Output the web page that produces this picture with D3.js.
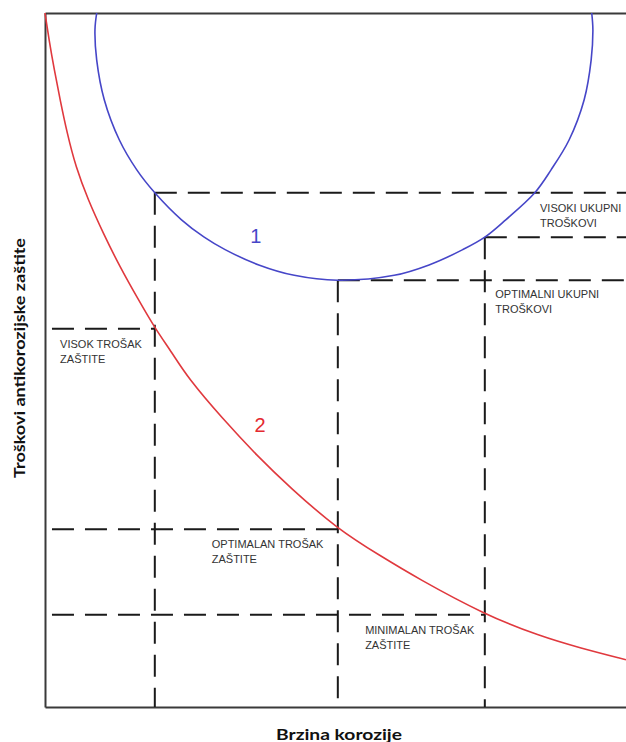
<!DOCTYPE html>
<html>
<head>
<meta charset="utf-8">
<script src="https://cdn.jsdelivr.net/npm/d3@7"></script>
<style>
  html, body { margin: 0; padding: 0; background: #fff; }
  svg { display: block; }
</style>
</head>
<body>
<svg id="chart" width="626" height="742"></svg>
<script>
// ---- Data (abstract units 0..100 on both axes) ----
// Curve 1: total cost (blue)
const curve1 = [
  [8.9,100],[8.6,97.6],[8.9,93.2],[10.2,87.5],[12.8,81.7],[15.8,77.4],[18.9,74.1],
  [23.5,70.2],[27.4,67.7],[31.0,65.9],[36.8,63.7],[42.9,62.2],[50.4,61.5],
  [60.1,62.2],[66.1,63.7],[71.9,65.9],[75.7,67.7],[79.3,70.2],[84.3,74.1],
  [87.1,77.4],[90.2,81.7],[92.8,87.5],[94.0,93.2],[94.3,97.6],[94.1,100]
];
// Curve 2: protection cost (red)
const curve2 = [
  [0,100],[0.7,96.1],[1.6,91.8],[2.6,87.5],[3.8,82.7],[5.3,77.8],[7.4,73.1],
  [10.0,68.3],[12.9,63.4],[16.0,58.8],[18.9,54.6],[21.9,51.0],[24.6,47.4],
  [30.5,41.6],[36.5,36.2],[42.2,31.6],[50.4,25.6],[57.7,21.8],[64.0,18.6],
  [75.7,13.3],[85.2,10.2],[92.1,8.5],[100,6.8]
];
// Dashed guide lines
const vGuides = [ {x:18.9, y0:0, y1:74.1}, {x:50.4, y0:0, y1:61.5}, {x:75.7, y0:0, y1:67.7} ];
const hGuides = [
  {y:74.1, x0:18.9, x1:100}, {y:67.7, x0:75.7, x1:100}, {y:61.5, x0:50.4, x1:100},
  {y:54.5, x0:1.2, x1:18.9}, {y:25.6, x0:1.2, x1:50.4}, {y:13.3, x0:1.2, x1:75.7}
];
// Annotation labels
const notes = [
  {lines:["VISOKI UKUPNI","TROŠKOVI"], x:85.2, y:71.3},
  {lines:["OPTIMALNI UKUPNI","TROŠKOVI"], x:77.5, y:58.9},
  {lines:["VISOK TROŠAK","ZAŠTITE"], x:2.6, y:51.7},
  {lines:["OPTIMALAN TROŠAK","ZAŠTITE"], x:28.7, y:22.9},
  {lines:["MINIMALAN TROŠAK","ZAŠTITE"], x:55.1, y:10.5}
];
const curveLabels = [ {text:"1", x:36.3, y:66.9, color:"#4646c8"}, {text:"2", x:37.0, y:39.6, color:"#e42a30"} ];
const xTitle = "Brzina korozije";
const yTitle = "Troškovi antikorozijske zaštite";

// ---- Drawing ----
const svg = d3.select("#chart");
const x = d3.scaleLinear().domain([0,100]).range([45,626]);
const y = d3.scaleLinear().domain([0,100]).range([707,13]);

// Frame via axes (no ticks)
const frame = svg.append("g");
frame.append("g").attr("transform",`translate(0,${y(0)})`)
  .call(d3.axisBottom(x).tickValues([]).tickSizeOuter(0));
frame.append("g").attr("transform",`translate(0,${y(100)})`)
  .call(d3.axisTop(x).tickValues([]).tickSizeOuter(0));
frame.append("g").attr("transform",`translate(${x(0)},0)`)
  .call(d3.axisLeft(y).tickValues([]).tickSizeOuter(0));
frame.selectAll(".domain").attr("stroke","#3a3a3a").attr("stroke-width",2);

// Guides
const guides = svg.append("g").attr("stroke","#1a1a1a").attr("stroke-width",2)
  .attr("stroke-dasharray","22,11").attr("fill","none");
guides.selectAll("line.v").data(vGuides).join("line").attr("class","v")
  .attr("x1",d=>x(d.x)).attr("x2",d=>x(d.x)).attr("y1",d=>y(d.y1)).attr("y2",d=>y(d.y0));
guides.selectAll("line.h").data(hGuides).join("line").attr("class","h")
  .attr("x1",d=>x(d.x0)).attr("x2",d=>x(d.x1)).attr("y1",d=>y(d.y)).attr("y2",d=>y(d.y));

// Curves
const line1 = d3.line().x(d=>x(d[0])).y(d=>y(d[1])).curve(d3.curveCatmullRom.alpha(0.5));
const line2 = d3.line().x(d=>x(d[0])).y(d=>y(d[1])).curve(d3.curveBasis);
svg.append("path").datum(curve1).attr("d",line1).attr("fill","none")
  .attr("stroke","#4646c8").attr("stroke-width",1.6);
svg.append("path").datum(curve2).attr("d",line2).attr("fill","none")
  .attr("stroke","#e0393e").attr("stroke-width",1.6);

// Notes
const ng = svg.append("g").attr("font-family","'Liberation Sans', Arial, sans-serif")
  .attr("font-size",11).attr("fill","#333");
notes.forEach(n => {
  const t = ng.append("text").attr("x",x(n.x)).attr("y",y(n.y));
  n.lines.forEach((l,i) => t.append("tspan").attr("x",x(n.x)).attr("dy", i===0?0:15).text(l));
});

// Curve labels
svg.selectAll("text.cl").data(curveLabels).join("text").attr("class","cl")
  .attr("x",d=>x(d.x)).attr("y",d=>y(d.y)).attr("text-anchor","middle")
  .attr("font-family","'Liberation Sans', Arial, sans-serif").attr("font-size",20)
  .attr("fill",d=>d.color).text(d=>d.text);

// Axis titles
svg.append("text").attr("x",339).attr("y",740).attr("text-anchor","middle")
  .attr("font-family","Lato, 'Open Sans', sans-serif").attr("font-weight","bold")
  .attr("font-size",16).attr("fill","#111")
  .attr("textLength",126).attr("lengthAdjust","spacingAndGlyphs").text(xTitle);
svg.append("text").attr("transform","translate(25,358) rotate(-90)").attr("text-anchor","middle")
  .attr("font-family","Lato, 'Open Sans', sans-serif").attr("font-weight","bold")
  .attr("font-size",16).attr("fill","#111")
  .attr("textLength",240).attr("lengthAdjust","spacingAndGlyphs").text(yTitle);
</script>
</body>
</html>
